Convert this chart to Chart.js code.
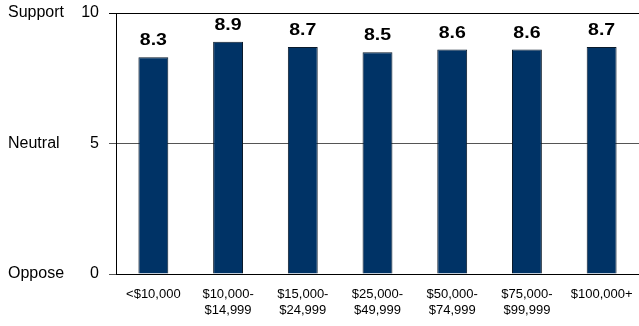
<!DOCTYPE html>
<html>
<head>
<meta charset="utf-8">
<script src="https://cdn.jsdelivr.net/npm/chart.js@4"></script>
<style>
  html, body { margin: 0; padding: 0; background: #fff; }
  #wrap { width: 639px; height: 326px; position: relative; }
</style>
</head>
<body>
<div id="wrap"><canvas id="chart"></canvas></div>
<script>
const incomeGroups = [
    ["<$10,000"],
    ["$10,000-", "$14,999"],
    ["$15,000-", "$24,999"],
    ["$25,000-", "$49,999"],
    ["$50,000-", "$74,999"],
    ["$75,000-", "$99,999"],
    ["$100,000+"]
]
const meanScores = [8.3, 8.9, 8.7, 8.5, 8.6, 8.6, 8.7]
const scaleWords = [
    {value: 10, text: "Support"},
    {value: 5, text: "Neutral"},
    {value: 0, text: "Oppose"}
]

const FONT = "Liberation Sans, Arial, sans-serif"

// value labels above the bars, y numbers and word labels at left
const labelsPlugin = {
    id: "labels",
    afterDatasetsDraw(chart) {
        const ctx = chart.ctx
        const meta = chart.getDatasetMeta(0)
        ctx.save()
        ctx.fillStyle = "#000"
        ctx.font = "bold 16px " + FONT
        ctx.textAlign = "center"
        ctx.textBaseline = "alphabetic"
        meta.data.forEach((bar, i) => {
            // the original lettering is a bit wider than Arial
            ctx.save()
            ctx.translate(bar.x, bar.y - 12)
            ctx.scale(1.22, 1)
            ctx.fillText(meanScores[i].toFixed(1), 0, 0)
            ctx.restore()
        })
        const y = chart.scales.y
        ctx.font = "16px " + FONT
        ctx.textBaseline = "middle"
        ctx.textAlign = "right"
        y.ticks.forEach(t => {
            ctx.fillText(String(t.value), 99, y.getPixelForValue(t.value))
        })
        ctx.textAlign = "left"
        scaleWords.forEach(w => {
            ctx.fillText(w.text, 8, y.getPixelForValue(w.value))
        })
        ctx.restore()
    }
}

new Chart(document.getElementById("chart"), {
    type: "bar",
    data: {
        labels: incomeGroups,
        datasets: [{
            data: meanScores,
            backgroundColor: "#003366",
            borderColor: "#0a1a2a",
            borderWidth: 1,
            barPercentage: 0.4,
            categoryPercentage: 1
        }]
    },
    options: {
        responsive: true,
        maintainAspectRatio: false,
        animation: false,
        layout: {padding: {top: 13, right: 0, bottom: 0, left: 0}},
        plugins: {
            legend: {display: false},
            tooltip: {enabled: false}
        },
        scales: {
            x: {
                grid: {display: false, drawTicks: false},
                border: {color: "#000", width: 1},
                ticks: {
                    color: "#000",
                    font: {family: FONT, size: 13, lineHeight: "16px"},
                    maxRotation: 0,
                    autoSkip: false,
                    padding: 12
                },
                afterFit(s) {
                    s.height = 52
                    s.paddingLeft = 0
                    s.paddingRight = 0
                }
            },
            y: {
                min: 0,
                max: 10,
                ticks: {stepSize: 5, display: false},
                grid: {
                    color: c => c.tick && c.tick.value === 10 ? "#000" : "#555",
                    lineWidth: 1,
                    tickLength: 7
                },
                border: {color: "#000", width: 1},
                afterFit(s) { s.width = 116 }
            }
        }
    },
    plugins: [labelsPlugin]
})
</script>
</body>
</html>
